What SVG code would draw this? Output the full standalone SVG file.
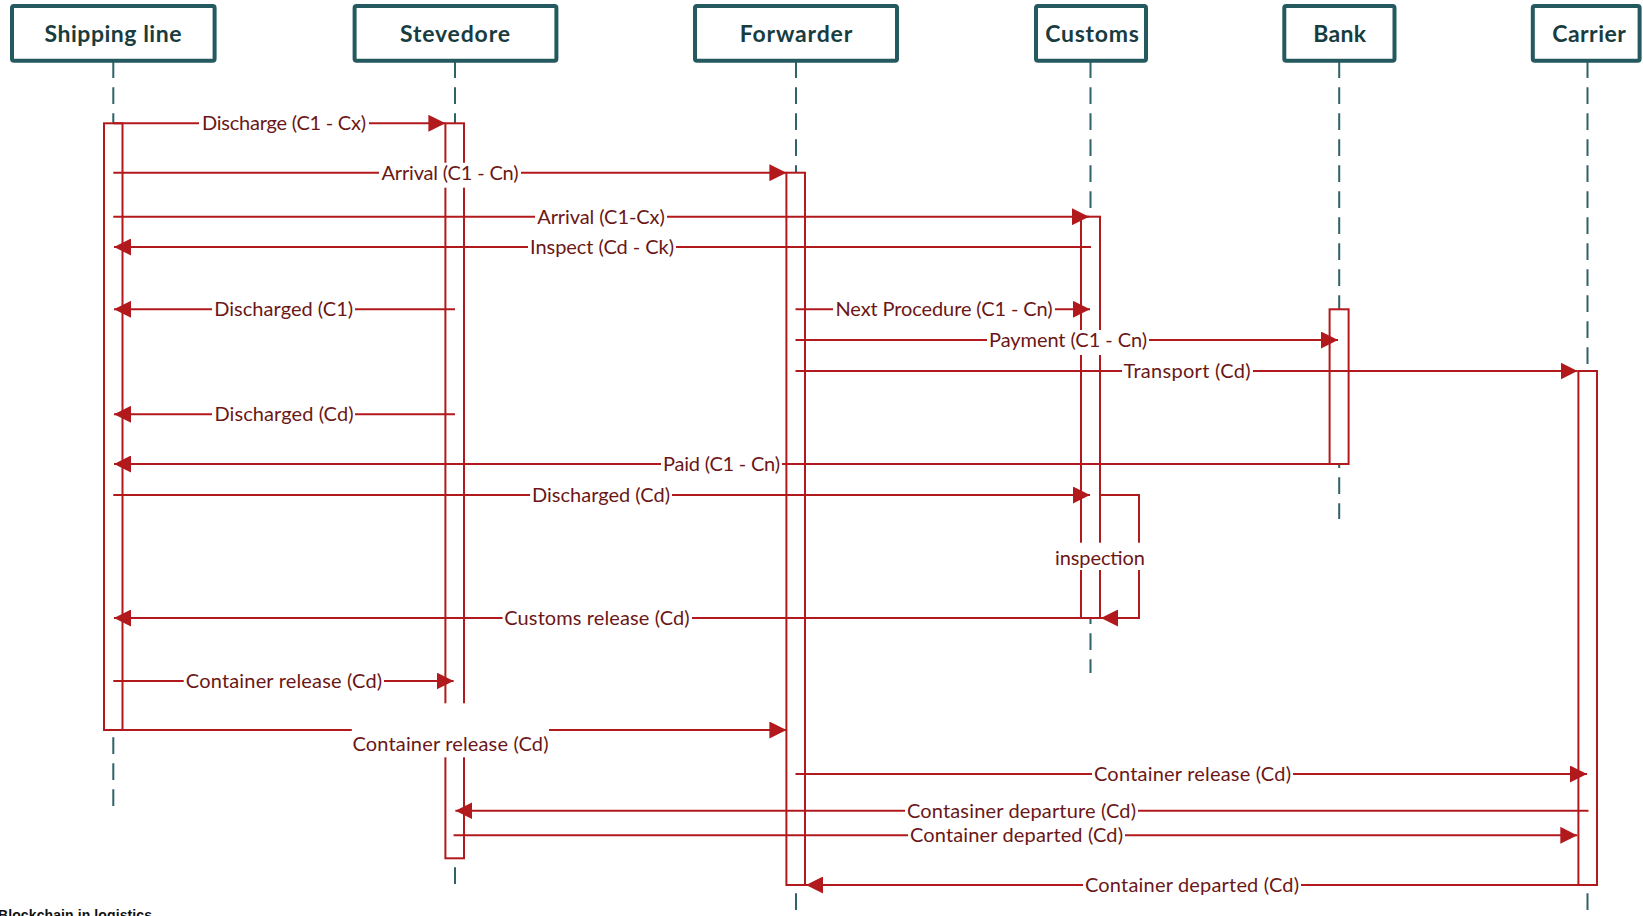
<svg xmlns="http://www.w3.org/2000/svg" width="1643" height="916" viewBox="0 0 1643 916">
<style>
.box{fill:#fff;stroke:#245a5f;stroke-width:4}
.hdr{font-family:Lato,"Liberation Sans",sans-serif;font-weight:700;font-size:23px;fill:#183c40;text-anchor:middle}
.life{stroke:#2e6168;stroke-width:2;stroke-dasharray:16.7 9.3;fill:none}
.act{fill:#fff;stroke:#b2191d;stroke-width:2}
.msg{stroke:#b2191d;stroke-width:2;fill:none}
.arr{marker-end:url(#ah)}
.lbl{font-family:Lato,"Liberation Sans",sans-serif;font-size:20px;fill:#6b1717;text-anchor:middle}
.bg{fill:#fff}
.foot{font-family:"Liberation Sans",Arial,sans-serif;font-weight:700;font-size:14px;fill:#111}
</style>
<defs>
<marker id="ah" markerUnits="userSpaceOnUse" markerWidth="17" markerHeight="17" refX="17" refY="8.5" orient="auto">
<path d="M0,0 L17,8.5 L0,17 z" fill="#b2191d"/>
</marker>
</defs>
<rect width="1643" height="916" fill="#fff"/>
<g id="lifelines">
<line class="life" x1="113.3" y1="61.3" x2="113.3" y2="811"/>
<line class="life" x1="455" y1="61.3" x2="455" y2="890"/>
<line class="life" x1="796" y1="61.3" x2="796" y2="916"/>
<line class="life" x1="1090.5" y1="61.3" x2="1090.5" y2="673"/>
<line class="life" x1="1339.2" y1="61.3" x2="1339.2" y2="519"/>
<line class="life" x1="1587.5" y1="61.3" x2="1587.5" y2="916"/>
</g>
<g id="shipping-line"><rect class="box" x="12" y="6" width="202.6" height="54.7" rx="2"/><text class="hdr" x="113" y="42" textLength="137">Shipping line</text></g>
<g id="stevedore"><rect class="box" x="354.6" y="6" width="201.8" height="54.7" rx="2"/><text class="hdr" x="455" y="42" textLength="110">Stevedore</text></g>
<g id="forwarder"><rect class="box" x="695" y="6" width="202" height="54.7" rx="2"/><text class="hdr" x="796" y="42" textLength="112.5">Forwarder</text></g>
<g id="customs"><rect class="box" x="1036" y="6" width="110" height="54.7" rx="2"/><text class="hdr" x="1092" y="42" textLength="93.5">Customs</text></g>
<g id="bank"><rect class="box" x="1284.3" y="6" width="110.2" height="54.7" rx="2"/><text class="hdr" x="1339.7" y="42" textLength="52.8">Bank</text></g>
<g id="carrier"><rect class="box" x="1532.8" y="6" width="106.8" height="54.7" rx="2"/><text class="hdr" x="1589" y="42" textLength="73.6">Carrier</text></g>
<g id="activations">
<rect class="act" x="104" y="123.3" width="18.5" height="606.7"/>
<rect class="act" x="445.4" y="123.3" width="18.6" height="735"/>
<rect class="act" x="786.4" y="172.7" width="18.6" height="712.3"/>
<rect class="act" x="1081" y="216.7" width="19" height="401.3"/>
<rect class="act" x="1329.6" y="309.3" width="19" height="154.7"/>
<rect class="act" x="1578.4" y="371" width="18.6" height="514"/>
</g>
<g id="connectors">
<line class="msg arr" x1="113.3" y1="123.3" x2="445.4" y2="123.3"/>
<line class="msg arr" x1="113.3" y1="172.7" x2="786.4" y2="172.7"/>
<line class="msg arr" x1="113.3" y1="216.7" x2="1089" y2="216.7"/>
<line class="msg arr" x1="1091" y1="247" x2="114" y2="247"/>
<line class="msg arr" x1="455" y1="309.3" x2="114" y2="309.3"/>
<line class="msg arr" x1="795.5" y1="309.3" x2="1090" y2="309.3"/>
<line class="msg arr" x1="795.5" y1="340" x2="1338" y2="340"/>
<line class="msg arr" x1="795.5" y1="371" x2="1577.5" y2="371"/>
<line class="msg arr" x1="455" y1="414.3" x2="114" y2="414.3"/>
<line class="msg arr" x1="1339" y1="464" x2="114" y2="464"/>
<line class="msg arr" x1="113.3" y1="495" x2="1090" y2="495"/>
<path class="msg arr" d="M1100,495 H1139 V618 H1101"/>
<line class="msg arr" x1="1090" y1="618" x2="114" y2="618"/>
<line class="msg arr" x1="113.3" y1="681" x2="453.6" y2="681"/>
<line class="msg arr" x1="113.3" y1="730" x2="786.4" y2="730"/>
<line class="msg arr" x1="795.5" y1="774" x2="1587" y2="774"/>
<line class="msg arr" x1="1588.5" y1="810.7" x2="455.4" y2="810.7"/>
<line class="msg arr" x1="453.6" y1="835.3" x2="1577.3" y2="835.3"/>
<line class="msg arr" x1="1587" y1="885" x2="806" y2="885"/>
</g>
<g id="labels">
<rect class="bg" x="199" y="113.3" width="170" height="25"/><text class="lbl" x="284" y="130.3" textLength="164">Discharge (C1 - Cx)</text>
<rect class="bg" x="379" y="162.7" width="142" height="25"/><text class="lbl" x="450" y="179.7" textLength="137">Arrival (C1 - Cn)</text>
<rect class="bg" x="535" y="206.7" width="132" height="25"/><text class="lbl" x="601" y="223.7" textLength="127.5">Arrival (C1-Cx)</text>
<rect class="bg" x="528" y="237" width="148" height="25"/><text class="lbl" x="602" y="254" textLength="144">Inspect (Cd - Ck)</text>
<rect class="bg" x="212" y="299.3" width="143" height="25"/><text class="lbl" x="283.7" y="316.3" textLength="139">Discharged (C1)</text>
<rect class="bg" x="833" y="299.3" width="222" height="25"/><text class="lbl" x="944" y="316.3" textLength="217">Next Procedure (C1 - Cn)</text>
<rect class="bg" x="987" y="330" width="162" height="25"/><text class="lbl" x="1068" y="347" textLength="158">Payment (C1 - Cn)</text>
<rect class="bg" x="1122" y="361" width="131" height="25"/><text class="lbl" x="1187" y="378" textLength="127">Transport (Cd)</text>
<rect class="bg" x="212" y="404.3" width="143" height="25"/><text class="lbl" x="284" y="421.3" textLength="139">Discharged (Cd)</text>
<rect class="bg" x="661" y="454" width="121" height="25"/><text class="lbl" x="721.5" y="471" textLength="117">Paid (C1 - Cn)</text>
<rect class="bg" x="530" y="485" width="142" height="25"/><text class="lbl" x="601" y="502" textLength="138">Discharged (Cd)</text>
<rect class="bg" x="1053" y="542.7" width="94" height="27.3"/><text class="lbl" x="1100" y="565" textLength="90">inspection</text>
<rect class="bg" x="502.6" y="608" width="189.4" height="25"/><text class="lbl" x="597" y="625" textLength="185.4">Customs release (Cd)</text>
<rect class="bg" x="183.7" y="671" width="200.3" height="25"/><text class="lbl" x="284" y="688" textLength="196.3">Container release (Cd)</text>
<rect class="bg" x="351.8" y="703.3" width="197.2" height="54"/><text class="lbl" x="450.5" y="751" textLength="196">Container release (Cd)</text>
<rect class="bg" x="1092" y="764" width="201" height="25"/><text class="lbl" x="1192.5" y="781" textLength="197">Container release (Cd)</text>
<rect class="bg" x="905" y="800.7" width="233" height="25"/><text class="lbl" x="1021.5" y="817.7" textLength="229">Contasiner departure (Cd)</text>
<rect class="bg" x="908" y="825.3" width="217" height="25"/><text class="lbl" x="1016.5" y="842.3" textLength="213">Container departed (Cd)</text>
<rect class="bg" x="1083" y="875" width="218" height="25"/><text class="lbl" x="1192" y="892" textLength="214">Container departed (Cd)</text>
</g>
<text class="foot" x="-2" y="919.5" textLength="154">Blockchain in logistics</text>
</svg>
